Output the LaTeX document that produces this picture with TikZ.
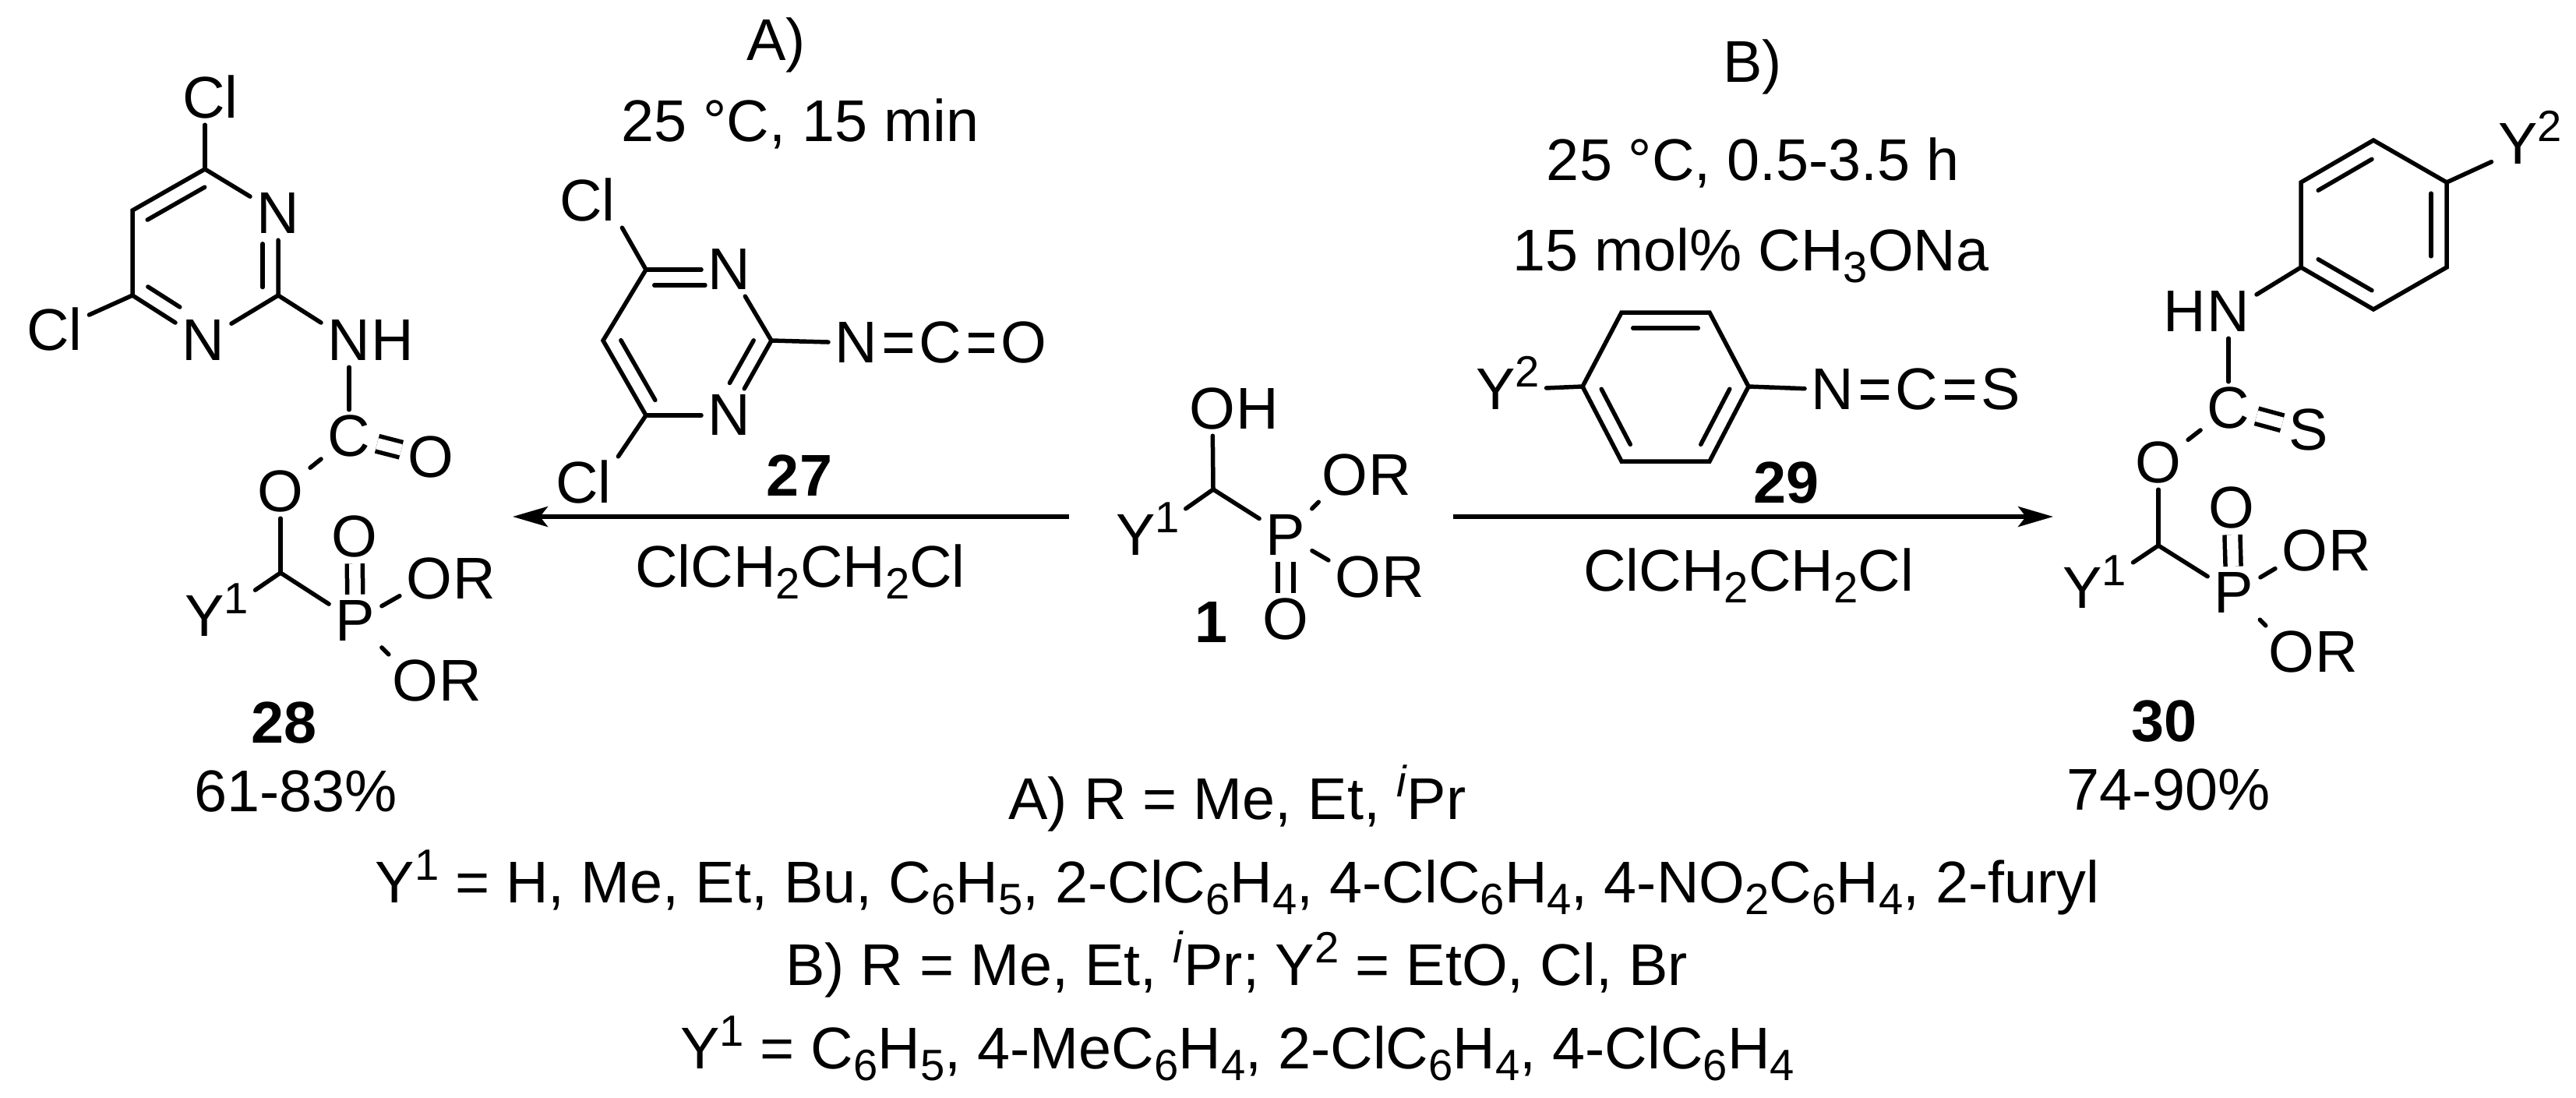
\documentclass[tikz,border=0pt]{standalone}
\usepackage{fontspec}
\setmainfont{Liberation Sans}
\usetikzlibrary{positioning,calc,arrows.meta}
\newcommand{\schemefont}{\fontsize{21.5}{26}\selectfont}
\newcommand{\sbs}[1]{\raisebox{-.2em}{\fontsize{16}{18}\selectfont #1}}
\newcommand{\sps}[1]{\raisebox{.38em}{\fontsize{16}{18}\selectfont #1}}
\newcommand{\inbond}[4]{\draw[bond] ($(#1)!#3!(#2)!.2cm!90:(#2)$) -- ($(#1)!#4!(#2)!.2cm!90:(#2)$);}
\tikzset{
  atom/.style={font=\schemefont,inner sep=.08cm,text height=.51cm,text depth=0cm},
  tailr/.style={atom,right=-.16cm of #1},
  taill/.style={atom,left=-.16cm of #1},
  lab/.style={font=\schemefont,inner sep=0pt,text height=.51cm,text depth=0cm},
  numlab/.style={lab,font=\schemefont\bfseries},
  bond/.style={line width=.055cm,line cap=round},
  dbond/.style={line width=.055cm,double,double distance=.145cm},
  rxn/.style={line width=.055cm,-{Stealth[length=.45cm,width=.26cm,inset=.1cm]}}
}
\begin{document}
\begin{tikzpicture}[y=-1cm]
  \useasboundingbox (0,0) rectangle (33.06,14.08);

  % product 28
  \coordinate (c4a) at (2.63,2.17);
  \coordinate (c5a) at (1.70,2.70);
  \coordinate (c6a) at (1.70,3.79);
  \coordinate (c2a) at (3.57,3.79);
  \coordinate (cha) at (3.60,7.35);
  \node[atom] (n3a) at (3.57,2.74) {N};
  \node[atom] (n1a) at (2.61,4.37) {N};
  \node[atom] (cla) at (2.70,1.26) {Cl};
  \node[atom] (clc) at (0.70,4.24) {Cl};
  \node[atom] (nha) at (4.48,4.37) {N};
  \node[tailr=nha] (hna) {H};
  \node[atom] (cca) at (4.48,5.60) {C};
  \node[atom] (oca) at (5.53,5.87) {O};
  \node[atom] (ooa) at (3.60,6.31) {O};
  \node[atom] (ya) at (2.78,7.91) {Y\sps{1}};
  \node[atom] (pa) at (4.56,7.97) {P};
  \node[atom] (opa) at (4.55,6.89) {O};
  \node[atom] (o1a) at (5.51,7.43) {O};
  \node[tailr=o1a] (r1a) {R};
  \node[atom] (o2a) at (5.33,8.74) {O};
  \node[tailr=o2a] (r2a) {R};
  \node[numlab] (lab28) at (3.65,9.28) {28};
  \node[lab] (yield28) at (3.80,10.16) {61-83\%};
  \draw[bond] (c4a) -- (c5a) -- (c6a);
  \draw[bond] (c6a) -- (n1a);
  \draw[bond] (n1a) -- (c2a) -- (n3a);
  \draw[bond] (n3a) -- (c4a);
  \inbond{c4a}{c5a}{.11}{.9}
  \inbond{c6a}{n1a}{.1}{.55}
  \inbond{c2a}{n3a}{.1}{.63}
  \draw[bond] (c4a) -- (cla.south -| c4a);
  \draw[bond] (c6a) -- (clc);
  \draw[bond] (c2a) -- (nha);
  \draw[bond] (nha) -- (cca);
  \draw[dbond] (cca) -- (oca);
  \draw[bond] (cca) -- (ooa);
  \draw[bond] (ooa) -- (cha);
  \draw[bond] (cha) -- (ya);
  \draw[bond] (cha) -- (pa);
  \draw[dbond] (pa) -- (opa);
  \draw[bond] (pa) -- (o1a);
  \draw[bond] (pa) -- (o2a);

  % reagent 27
  \coordinate (c4b) at (8.29,3.46);
  \coordinate (c5b) at (7.74,4.37);
  \coordinate (c6b) at (8.29,5.33);
  \coordinate (c2b) at (9.90,4.37);
  \node[atom] (n3b) at (9.36,3.46) {N};
  \node[atom] (n1b) at (9.36,5.33) {N};
  \node[atom] (clb) at (7.54,2.58) {Cl};
  \node[atom] (cld) at (7.49,6.20) {Cl};
  \node[atom] (nb) at (10.99,4.40) {N};
  \node[atom] (cb) at (12.07,4.40) {C};
  \node[atom] (ob) at (13.14,4.40) {O};
  \node[numlab] (lab27) at (10.26,6.11) {27};
  \draw[bond] (c4b) -- (c5b) -- (c6b);
  \draw[bond] (c6b) -- (n1b);
  \draw[bond] (n1b) -- (c2b) -- (n3b);
  \draw[bond] (n3b) -- (c4b);
  \inbond{c5b}{c6b}{.1}{.9}
  \inbond{n1b}{c2b}{.33}{.9}
  \inbond{n3b}{c4b}{.29}{.9}
  \draw[bond] (c4b) -- (clb.south east);
  \draw[bond] (c6b) -- (cld.north east);
  \draw[bond] (c2b) -- (nb);
  \draw[dbond] (nb) -- (cb);
  \draw[dbond] (cb) -- (ob);

  % conditions A
  \node[lab] (conda) at (9.96,0.52) {A)};
  \node[lab] (tempa) at (10.27,1.56) {25 °C, 15 min};
  \node[lab] (solva) at (10.27,7.28) {ClCH\sbs{2}CH\sbs{2}Cl};
  \coordinate (arra) at (13.72,6.63);
  \coordinate (arrb) at (6.58,6.63);
  \draw[rxn] (arra) -- (arrb);

  % substrate 1
  \coordinate (chs) at (15.57,6.28);
  \node[atom] (oho) at (15.56,5.25) {O};
  \node[tailr=oho] (ohh) {H};
  \node[atom] (ys) at (14.73,6.87) {Y\sps{1}};
  \node[atom] (ps) at (16.50,6.87) {P};
  \node[atom] (ops) at (16.50,7.95) {O};
  \node[atom] (o1s) at (17.26,6.10) {O};
  \node[tailr=o1s] (r1s) {R};
  \node[atom] (o2s) at (17.43,7.41) {O};
  \node[tailr=o2s] (r2s) {R};
  \node[numlab] (lab1) at (15.54,7.99) {1};
  \draw[bond] (chs) -- (oho);
  \draw[bond] (chs) -- (ys);
  \draw[bond] (chs) -- (ps);
  \draw[dbond] (ps) -- (ops);
  \draw[bond] (ps) -- (o1s);
  \draw[bond] (ps) -- (o2s);

  % reagent 29
  \coordinate (v1c) at (20.31,4.96);
  \coordinate (v2c) at (20.81,5.92);
  \coordinate (v3c) at (21.94,5.92);
  \coordinate (v4c) at (22.44,4.96);
  \coordinate (v5c) at (21.94,4.01);
  \coordinate (v6c) at (20.81,4.01);
  \node[atom] (yc) at (19.35,5.00) {Y\sps{2}};
  \node[atom] (nc) at (23.52,5.00) {N};
  \node[atom] (cc) at (24.60,5.00) {C};
  \node[atom] (sc) at (25.68,5.00) {S};
  \node[numlab] (lab29) at (22.92,6.20) {29};
  \draw[bond] (v1c) -- (v2c) -- (v3c) -- (v4c) -- (v5c) -- (v6c) -- cycle;
  \inbond{v1c}{v2c}{.13}{.87}
  \inbond{v3c}{v4c}{.13}{.87}
  \inbond{v5c}{v6c}{.13}{.87}
  \draw[bond] (v1c) -- (yc);
  \draw[bond] (v4c) -- (nc);
  \draw[dbond] (nc) -- (cc);
  \draw[dbond] (cc) -- (sc);

  % conditions B
  \node[lab] (condb) at (22.49,0.80) {B)};
  \node[lab] (tempb) at (22.50,2.06) {25 °C, 0.5-3.5 h};
  \node[lab] (baseb) at (22.47,3.22) {15 mol\% CH\sbs{3}ONa};
  \node[lab] (solvb) at (22.44,7.33) {ClCH\sbs{2}CH\sbs{2}Cl};
  \coordinate (arrc) at (18.65,6.63);
  \coordinate (arrd) at (26.35,6.63);
  \draw[rxn] (arrc) -- (arrd);

  % product 30
  \coordinate (v1d) at (30.46,1.80);
  \coordinate (v2d) at (29.53,2.34);
  \coordinate (v3d) at (29.53,3.43);
  \coordinate (v4d) at (30.46,3.97);
  \coordinate (v5d) at (31.40,3.43);
  \coordinate (v6d) at (31.40,2.34);
  \coordinate (chd) at (27.70,7.00);
  \node[atom] (yd) at (32.47,1.85) {Y\sps{2}};
  \node[atom] (nd) at (28.60,4.00) {N};
  \node[taill=nd] (hd) {H};
  \node[atom] (cd) at (28.60,5.24) {C};
  \node[atom] (sd) at (29.63,5.52) {S};
  \node[atom] (ood) at (27.70,5.94) {O};
  \node[atom] (yyd) at (26.88,7.55) {Y\sps{1}};
  \node[atom] (pd) at (28.67,7.61) {P};
  \node[atom] (opd) at (28.64,6.52) {O};
  \node[atom] (o1d) at (29.58,7.07) {O};
  \node[tailr=o1d] (r1d) {R};
  \node[atom] (o2d) at (29.41,8.37) {O};
  \node[tailr=o2d] (r2d) {R};
  \node[numlab] (lab30) at (27.77,9.26) {30};
  \node[lab] (yield30) at (27.83,10.14) {74-90\%};
  \draw[bond] (v1d) -- (v2d) -- (v3d) -- (v4d) -- (v5d) -- (v6d) -- cycle;
  \inbond{v1d}{v2d}{.13}{.87}
  \inbond{v3d}{v4d}{.13}{.87}
  \inbond{v5d}{v6d}{.13}{.87}
  \draw[bond] (v6d) -- (yd);
  \draw[bond] (v3d) -- (nd);
  \draw[bond] (nd) -- (cd);
  \draw[dbond] (cd) -- (sd);
  \draw[bond] (cd) -- (ood);
  \draw[bond] (ood) -- (chd);
  \draw[bond] (chd) -- (yyd);
  \draw[bond] (chd) -- (pd);
  \draw[dbond] (pd) -- (opd);
  \draw[bond] (pd) -- (o1d);
  \draw[bond] (pd) -- (o2d);

  % substituents
  \node[lab] (rowa) at (15.88,10.26) {A) R = Me, Et, \sps{\textit{i}}Pr};
  \node[lab] (rowb) at (15.88,11.33) {Y\sps{1} = H, Me, Et, Bu, C\sbs{6}H\sbs{5}, 2-ClC\sbs{6}H\sbs{4}, 4-ClC\sbs{6}H\sbs{4}, 4-NO\sbs{2}C\sbs{6}H\sbs{4}, 2-furyl};
  \node[lab] (rowc) at (15.87,12.39) {B) R = Me, Et, \sps{\textit{i}}Pr; Y\sps{2} = EtO, Cl, Br};
  \node[lab] (rowd) at (15.88,13.46) {Y\sps{1} = C\sbs{6}H\sbs{5}, 4-MeC\sbs{6}H\sbs{4}, 2-ClC\sbs{6}H\sbs{4}, 4-ClC\sbs{6}H\sbs{4}};
\end{tikzpicture}
\end{document}
